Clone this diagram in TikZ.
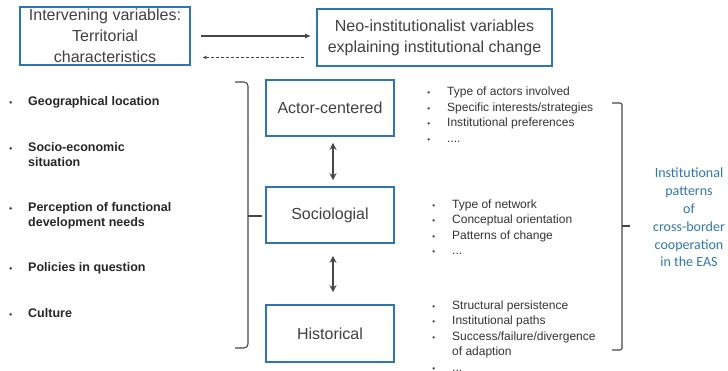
\documentclass[tikz,border=0pt]{standalone}
\usepackage{fontspec}
\setmainfont{Liberation Sans}
\newfontfamily\calib{Carlito}
\usetikzlibrary{arrows.meta}
\definecolor{boxblue}{RGB}{46,117,182}
\definecolor{instblue}{RGB}{47,120,170}
\definecolor{txtgray}{RGB}{64,64,64}
\definecolor{lingray}{RGB}{70,70,70}
\tikzstyle{varbox}=[draw=boxblue, line width=1.6pt, text=txtgray, align=center, inner sep=0pt, font=\fontsize{16}{21}\selectfont]
\tikzstyle{lefttxt}=[anchor=west, align=left, inner sep=0pt, text=black!85, font=\bfseries\fontsize{12.5}{15}\selectfont]
\tikzstyle{righttxt}=[anchor=west, align=left, inner sep=0pt, text=black!80, font=\fontsize{12}{15.5}\selectfont]
\tikzstyle{bracket}=[draw=lingray, line width=1.1pt]
\newcommand{\itbul}[1]{\llap{{\fontsize{8}{8}\selectfont\textbullet}\hspace{#1}}}

\begin{document}
\begin{tikzpicture}[x=1pt, y=-1pt]
    \useasboundingbox (0,0) rectangle (728,371);

    % top row
    \node[varbox, minimum width=170, minimum height=58] (terr) at (105,36) {Intervening variables:\\Territorial\\characteristics};
    \node[varbox, minimum width=235, minimum height=57] (neo) at (434.5,37.5) {Neo-institutionalist variables\\explaining institutional change};

    \draw[lingray, line width=1.4pt, -{Latex[length=6pt, width=5pt]}, shorten <=10pt, shorten >=5pt] (terr.east) -- (terr.east -| neo.west);
    \draw[lingray, line width=0.6pt, densely dashed, -{Stealth[length=4pt, width=3.5pt]}, shorten <=12pt, shorten >=12pt] ([yshift=-20pt]neo.west) -- ([yshift=-20pt]neo.west -| terr.east);

    % territorial characteristics
    \node[lefttxt] (geo) at (28,102) {\itbul{16pt}Geographical location};
    \node[lefttxt] (soec) at (28,154.5) {\itbul{16pt}Socio-economic\\situation};
    \node[lefttxt] (perc) at (28,215.5) {\itbul{16pt}Perception of functional\\development needs};
    \node[lefttxt] (pol) at (28,268) {\itbul{16pt}Policies in question};
    \node[lefttxt] (cult) at (28,313) {\itbul{16pt}Culture};

    \draw[bracket, rounded corners=4pt] (235,82) -| (248,348) -- (235,348);
    \draw[bracket] (248,216) -- (262,216);

    % three approaches
    \node[varbox, minimum width=128, minimum height=56] (actr) at (330,108) {Actor-centered};
    \node[varbox, minimum width=128, minimum height=56] (socl) at (330,215) {Sociologial};
    \node[varbox, minimum width=128, minimum height=57] (hist) at (330,333.5) {Historical};

    \draw[lingray, line width=1.6pt, {Stealth[length=7pt, width=7pt]}-{Stealth[length=7pt, width=7pt]}, shorten <=6pt, shorten >=6pt] ([xshift=3pt]actr.south) -- ([xshift=3pt]socl.north);
    \draw[lingray, line width=1.6pt, {Stealth[length=7pt, width=7pt]}-{Stealth[length=7pt, width=7pt]}, shorten <=12pt, shorten >=12pt] ([xshift=3pt]socl.south) -- ([xshift=3pt]hist.north);

    % variables of each approach
    \node[righttxt] (actl) at (447,114.5) {\itbul{17pt}Type of actors involved\\\itbul{17pt}Specific interests/strategies\\\itbul{17pt}Institutional preferences\\\itbul{17pt}....};
    \node[righttxt] (socll) at (452,227) {\itbul{17pt}Type of network\\\itbul{17pt}Conceptual orientation\\\itbul{17pt}Patterns of change\\\itbul{17pt}...};
    \node[righttxt] (histl) at (452,336) {\itbul{17pt}Structural persistence\\\itbul{17pt}Institutional paths\\\itbul{17pt}Success/failure/divergence\\of adaption\\\itbul{17pt}...};

    \draw[bracket, rounded corners=2pt] (612,103) -| (622,350) -- (612,350);
    \draw[bracket] (622,226) -- (630,226);

    \node[align=center, inner sep=0pt, text=instblue, font=\calib\fontsize{14}{17.8}\selectfont] (inst) at (689,217.5) {Institutional\\patterns\\of\\cross-border\\cooperation\\in the EAS};
\end{tikzpicture}
\end{document}
